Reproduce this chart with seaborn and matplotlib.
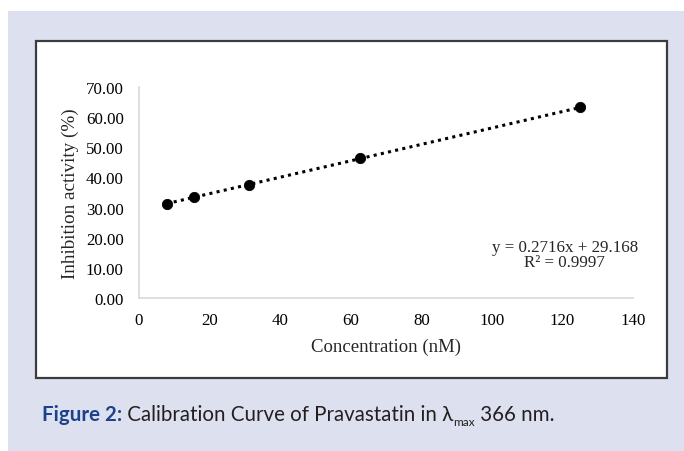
"""
Curva de calibración de pravastatina (actividad de inhibición vs concentración).
"""
import numpy as np
import pandas as pd
import matplotlib
matplotlib.use("Agg")
import matplotlib.pyplot as plt
from matplotlib.patches import Rectangle
import seaborn as sns

# Datos
concentracion = [7.8125, 15.625, 31.25, 62.5, 125.0]
inhibicion = [31.3, 33.6, 37.4, 46.3, 63.2]
ecuacion = "y = 0.2716x + 29.168"
r2_texto = "R² = 0.9997"
xticks = [0, 20, 40, 60, 80, 100, 120, 140]
yticks = [0, 10, 20, 30, 40, 50, 60, 70]

datos = pd.DataFrame({"Concentracion": concentracion, "Inhibicion": inhibicion})

sns.set_style("white")
plt.rcParams["font.family"] = ["Liberation Serif", "DejaVu Serif"]

W, H = 684, 452
fig = plt.figure(figsize=(W / 100, H / 100), dpi=100)
fig.patch.set_facecolor("white")

# Fondo lavanda y recuadro blanco con borde
fig.patches.append(Rectangle((8 / W, 0), (W - 8) / W, (H - 12) / H,
                             transform=fig.transFigure, facecolor="#dde1ef",
                             edgecolor="none", zorder=0))
fig.patches.append(Rectangle((36 / W, (H - 379) / H), 631 / W, 337 / H,
                             transform=fig.transFigure, facecolor="white",
                             edgecolor="#3c3c3c", linewidth=1.6, zorder=1))

ax = fig.add_axes([139 / W, (H - 299) / H, 494 / W, 211 / H])
ax.set_facecolor("none")
ax.set_zorder(2)

# Línea de tendencia punteada y puntos
sns.regplot(data=datos, x="Concentracion", y="Inhibicion", ci=None, scatter=False,
            ax=ax, color="black",
            line_kws={"linestyle": (0, (1, 1.4)), "linewidth": 2.2})
sns.scatterplot(data=datos, x="Concentracion", y="Inhibicion", ax=ax,
                color="black", s=55, edgecolor="black", zorder=3)

ax.set_xlim(0, 140)
ax.set_ylim(0, 70)
ax.set_xticks(xticks)
ax.set_yticks(yticks)
ax.set_xticklabels([str(v) for v in xticks])
ax.set_yticklabels([f"{v:.2f}" for v in yticks])
ax.tick_params(length=0, labelsize=12.2, colors="black")
ax.tick_params(axis="y", pad=11)
ax.tick_params(axis="x", pad=10)

for lado in ["top", "right"]:
    ax.spines[lado].set_visible(False)
for lado in ["left", "bottom"]:
    ax.spines[lado].set_color("#d9d9d9")
    ax.spines[lado].set_linewidth(1.2)

ax.set_xlabel("Concentration (nM)", fontsize=13.5, labelpad=7)
ax.set_ylabel("Inhibition activity (%)", fontsize=13.8, labelpad=5)

ax.text(0.862, 0.242, ecuacion, transform=ax.transAxes, ha="center", va="center",
        fontsize=12.2)
ax.text(0.862, 0.171, r2_texto, transform=ax.transAxes, ha="center", va="center",
        fontsize=12.2)

# Pie de figura, escrito por partes
fig.canvas.draw()
renderer = fig.canvas.get_renderer()
fam = ["Lato", "DejaVu Sans"]
y_base = (H - 421) / H
x = 42 / W
piezas = [("Figure 2:", "bold", "#1d4289", 14.8, 0),
          (" Calibration Curve of Pravastatin in λ", "normal", "#231f20", 14.8, 0),
          ("max", "normal", "#231f20", 8.5, -5),
          (" 366 nm.", "normal", "#231f20", 14.8, 0)]
for texto, peso, color, tam, dy in piezas:
    t = fig.text(x, y_base + dy / H, texto, fontsize=tam, fontweight=peso,
                 color=color, family=fam, va="baseline", ha="left")
    bb = t.get_window_extent(renderer=renderer)
    x += bb.width / W

fig.savefig("out.png", dpi=100)
plt.close(fig)
